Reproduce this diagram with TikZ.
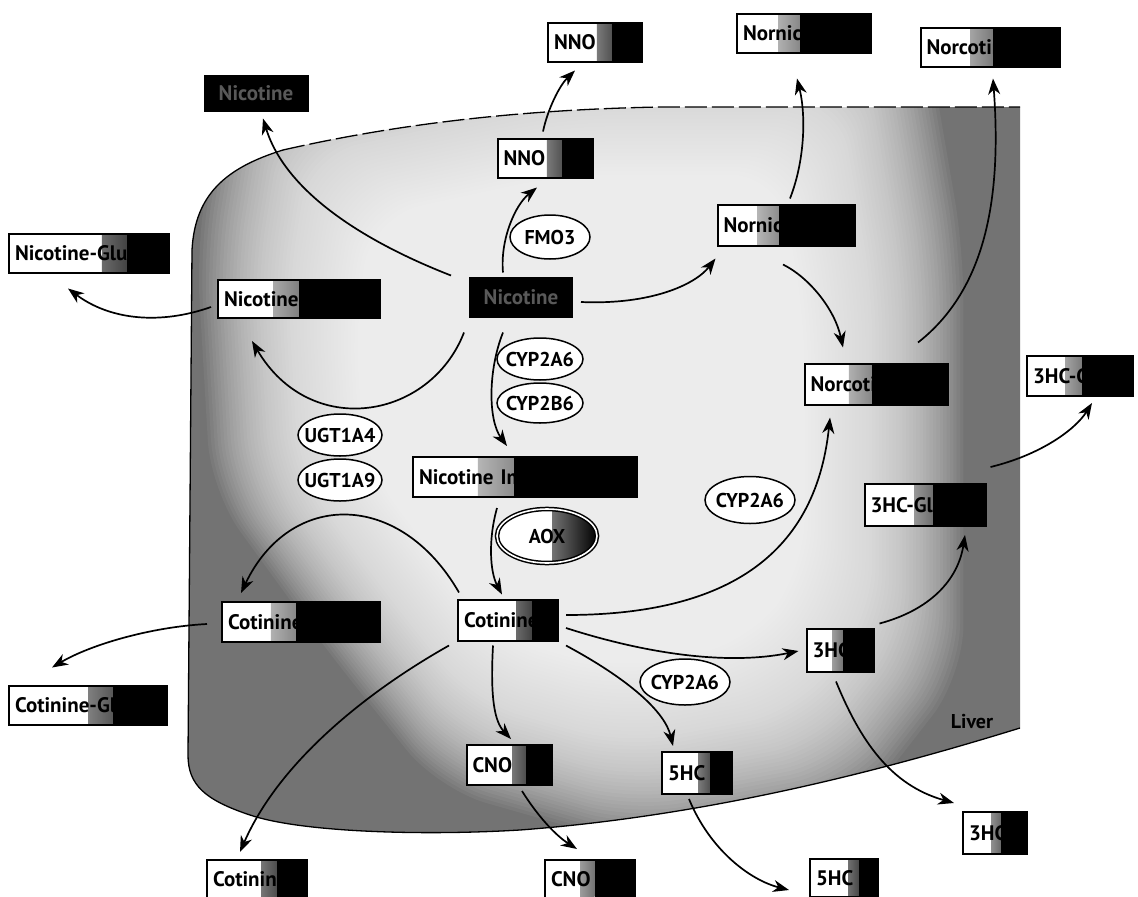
\documentclass[tikz,border=0pt]{standalone}
\usepackage{fontspec}
\setmainfont{PT Sans}
\usetikzlibrary{arrows.meta,shapes.geometric,calc}
\newcommand\mbfont{\fontsize{21}{24}\selectfont\bfseries}
\newcommand\elfont{\fontsize{20}{22}\selectfont\bfseries}
\begin{document}
\begin{tikzpicture}[x=1pt,y=-1pt,
  dk/.code={\def\dkfrac{#1}\pgfmathsetmacro\dkstart{max(#1-0.16,0.001)}},
  dk=0.5,
  w/.code={\pgfmathsetmacro\tw{#1-12}\edef\tmp{\noexpand\tikzset{minimum width=#1pt, text width=\tw pt}}\tmp},
  mbox/.style={draw=black, line width=2pt, fill=white, inner xsep=6pt, inner ysep=2pt,
    minimum height=39pt, text=black, font=\mbfont, align=left,
    path picture={
      \shade[left color=white, right color=black]
        ($(path picture bounding box.south west)!\dkstart!(path picture bounding box.south east)$)
        rectangle ($(path picture bounding box.north west)!\dkfrac!(path picture bounding box.north east)$);
      \fill[black]
        ($(path picture bounding box.south west)!\dkfrac!(path picture bounding box.south east)$)
        rectangle (path picture bounding box.north east);
    }},
  blkbox/.style={draw=black, line width=2pt, fill=black, inner sep=2pt,
    minimum height=39pt, text=white!35!black, font=\mbfont},
  ell/.style={ellipse, draw=black, line width=1.5pt, fill=white, inner xsep=-9pt, inner ysep=0pt, font=\elfont},
  arr/.style={line width=1.7pt, -{Stealth[length=16pt, width=12pt, inset=5pt]}},
  edge line/.style={line width=1.3pt},
  pale/.style={white, rounded corners=50pt}
]
\useasboundingbox (0,0) rectangle (1138,897);

% ---------- liver: stippled rim fading into a pale interior ----------
\begin{scope}
  \clip (188,755) -- (192,250) .. controls (195,195) and (225,168) .. (283,150)
    .. controls (380,128) and (500,110) .. (660,107) -- (1020,107) -- (1020,728)
    .. controls (900,765) and (720,815) .. (520,830)
    .. controls (420,836) and (300,832) .. (250,815)
    .. controls (205,800) and (188,785) .. cycle;
  \fill[black!55] (150,90) rectangle (1060,860);
  \foreach \s in {1.42,1.4075,...,0.70}
    \fill[pale, opacity=0.05, scale around={\s:(580,420)}]
      (330,175) -- (560,125) -- (820,125) -- (850,300) -- (850,600) -- (780,690)
      -- (620,720) -- (480,680) -- (400,580) -- (320,470) -- (310,300) -- cycle;
\end{scope}
\draw[edge line] (1020,728) .. controls (900,765) and (720,815) .. (520,830)
    .. controls (420,836) and (300,832) .. (250,815)
    .. controls (205,800) and (188,785) .. (188,755) -- (192,250)
    .. controls (195,195) and (225,168) .. (283,150);
\draw[edge line, dash pattern=on 22pt off 5pt] (283,150)
    .. controls (380,128) and (500,110) .. (660,107) -- (1020,107);
\node[font=\fontsize{20}{22}\selectfont\bfseries] (liver) at (972,722) {Liver};

% ---------- metabolites ----------
\node[blkbox, minimum width=103pt, minimum height=35pt] (nicTop) at (256,93) {Nicotine};
\node[mbox, dk=0.68, w=94] (nnoTop) at (595,42) {\mbox{NNO}};
\node[mbox, dk=0.47, w=134] (nornTop) at (804,33) {\mbox{Nornicotine}};
\node[mbox, dk=0.52, w=139] (norcTop) at (990,47) {\mbox{Norcotinine}};
\node[mbox, dk=0.68, w=95] (nnoIn) at (545,158) {\mbox{NNO}};
\node[mbox, dk=0.45, w=137, minimum height=41pt] (nornIn) at (786,225) {\mbox{Nornicotine}};
\node[mbox, dk=0.74, w=160] (nglOut) at (89,253) {\mbox{Nicotine-Glu}};
\node[mbox, dk=0.5, w=162, minimum height=38pt] (nglIn) at (299,299) {\mbox{Nicotine-Glu}};
\node[blkbox, minimum width=102pt] (nicC) at (521,297) {Nicotine};
\node[mbox, dk=0.45, w=224, minimum height=40pt] (imin) at (525,477) {\mbox{Nicotine Iminium Ion}};
\node[mbox, dk=0.47, w=143, minimum height=41pt] (norcIn) at (876,384) {\mbox{Norcotinine}};
\node[mbox, dk=0.52, w=106, minimum height=40pt] (hcglOut) at (1080,376) {\mbox{3HC-Glu}};
\node[mbox, dk=0.57, w=121, minimum height=42pt] (hcglIn) at (925,505) {\mbox{3HC-Glu}};
\node[mbox, dk=0.47, w=158, minimum height=40pt] (cotglIn) at (301,622) {\mbox{Cotinine-Glu}};
\node[mbox, dk=0.74, w=100, minimum height=41pt] (cotC) at (508,620) {\mbox{Cotinine}};
\node[mbox, dk=0.55, w=67, minimum height=43pt] (hc3In) at (840,650) {\mbox{3HC}};
\node[mbox, dk=0.66, w=158, minimum height=39pt] (cotglOut) at (88,705) {\mbox{Cotinine-Glu}};
\node[mbox, dk=0.7, w=85, minimum height=40pt] (cnoIn) at (509,765) {\mbox{CNO}};
\node[mbox, dk=0.68, w=70, minimum height=42pt] (hc5In) at (697,773) {\mbox{5HC}};
\node[mbox, dk=0.6, w=64, minimum height=42pt] (hc3Out) at (995,833) {\mbox{3HC}};
\node[mbox, dk=0.7, w=100, minimum height=38pt] (cotOut) at (257,879) {\mbox{Cotinine}};
\node[mbox, dk=0.55, w=90, minimum height=38pt] (cnoOut) at (590,879) {\mbox{CNO}};
\node[mbox, dk=0.72, w=68, minimum height=38pt] (hc5Out) at (844,878) {\mbox{5HC}};

% ---------- enzymes ----------
\node[ell, minimum width=80pt, minimum height=44pt] (fmo) at (550,237) {FMO3};
\node[ell, minimum width=86pt, minimum height=42pt] (cypA) at (540,359) {CYP2A6};
\node[ell, minimum width=86pt, minimum height=40pt] (cypB) at (540,403) {CYP2B6};
\node[ell, minimum width=84pt, minimum height=42pt] (ugtA) at (340,435) {UGT1A4};
\node[ell, minimum width=84pt, minimum height=42pt] (ugtB) at (340,480) {UGT1A9};
\node[ell, double=white, double distance=1.6pt, minimum width=100pt, minimum height=54pt,
  path picture={\shade[left color=white, right color=black]
      ($(path picture bounding box.south west)!0.55!(path picture bounding box.south east)$)
      rectangle (path picture bounding box.north east);}] (aox) at (547,536) {AOX};
\node[ell, minimum width=90pt, minimum height=47pt] (cypC) at (750,500) {CYP2A6};
\node[ell, minimum width=90pt, minimum height=46pt] (cypD) at (685,682) {CYP2A6};

% ---------- reactions ----------
\draw[arr] ($(nicC.north west)+(-18,-1)$) .. controls (360,240) and (285,190) .. ($(nicTop.south)+(7,7)$);
\draw[arr] ($(nnoIn.north)+(-2,-6)$) .. controls (548,108) and (560,85) .. ($(nnoTop.south)+(-20,8)$);
\draw[arr] ($(nicC.north)+(-18,-4)$) .. controls (500,240) and (515,205) .. ($(nnoIn.south)+(-8,9)$);
\draw[arr] ($(nicC.east)+(8,5)$) .. controls (650,305) and (695,285) .. ($(nornIn.south west)+(-1,12)$);
\draw[arr] ($(nornIn.south)+(-3,18)$) .. controls (810,278) and (835,310) .. ($(norcIn.north)+(-33,-15)$);
\draw[arr] ($(nornIn.north)+(4,-5)$) .. controls (805,160) and (806,115) .. ($(nornTop.south)+(-7,25)$);
\draw[arr] ($(norcIn.north)+(42,-20)$) .. controls (985,290) and (1002,200) .. ($(norcTop.south)+(3,11)$);
\draw[arr] ($(nicC.south west)+(-5,15)$) .. controls (430,420) and (310,440) .. ($(nglIn.south west)+(35,22)$);
\draw[arr] ($(nglIn.west)+(-6,8)$) .. controls (160,325) and (110,320) .. ($(nglOut.south)+(-21,15)$);
\draw[arr] ($(nicC.south)+(-18,15)$) .. controls (488,370) and (488,420) .. ($(imin.north)+(-18,-10)$);
\draw[arr] ($(imin.south)+(-28,10)$) .. controls (488,540) and (490,572) .. ($(cotC.north)+(-6,-4)$);
\draw[arr] ($(cotC.north west)+(2,-6)$) .. controls (400,490) and (290,490) .. ($(cotglIn.north west)+(20,-8)$);
\draw[arr] ($(cotglIn.west)+(-14,2)$) .. controls (150,627) and (90,645) .. ($(cotglOut.north)+(-36,-17)$);
\draw[arr] ($(cotC.south west)+(-8,4)$) .. controls (370,690) and (280,760) .. ($(cotOut.north)+(-17,-7)$);
\draw[arr] ($(cotC.south)+(-15,4)$) .. controls (490,700) and (495,722) .. ($(cnoIn.north)+(2,-5)$);
\draw[arr] ($(cnoIn.south)+(13,5)$) .. controls (537,815) and (555,835) .. ($(cnoOut.north)+(-13,-10)$);
\draw[arr] ($(cotC.south east)+(7,4)$) .. controls (630,680) and (665,712) .. ($(hc5In.north)+(-24,-5)$);
\draw[arr] ($(hc5In.south)+(-8,4)$) .. controls (710,850) and (750,880) .. ($(hc5Out.west)+(-20,12)$);
\draw[arr] ($(cotC.east)+(7,8)$) .. controls (650,655) and (730,665) .. ($(hc3In.west)+(-7,1)$);
\draw[arr] ($(cotC.east)+(7,-5)$) .. controls (720,615) and (815,560) .. ($(norcIn.south)+(-46,12)$);
\draw[arr] ($(hc3In.north east)+(5,-4)$) .. controls (930,610) and (958,580) .. ($(hcglIn.south)+(40,8)$);
\draw[arr] ($(hcglIn.north east)+(4,-16)$) .. controls (1040,455) and (1075,430) .. ($(hcglOut.south)+(12,6)$);
\draw[arr] ($(hc3In.south)+(-4,9)$) .. controls (860,740) and (890,785) .. ($(hc3Out.west)+(-8,-30)$);
\end{tikzpicture}
\end{document}
